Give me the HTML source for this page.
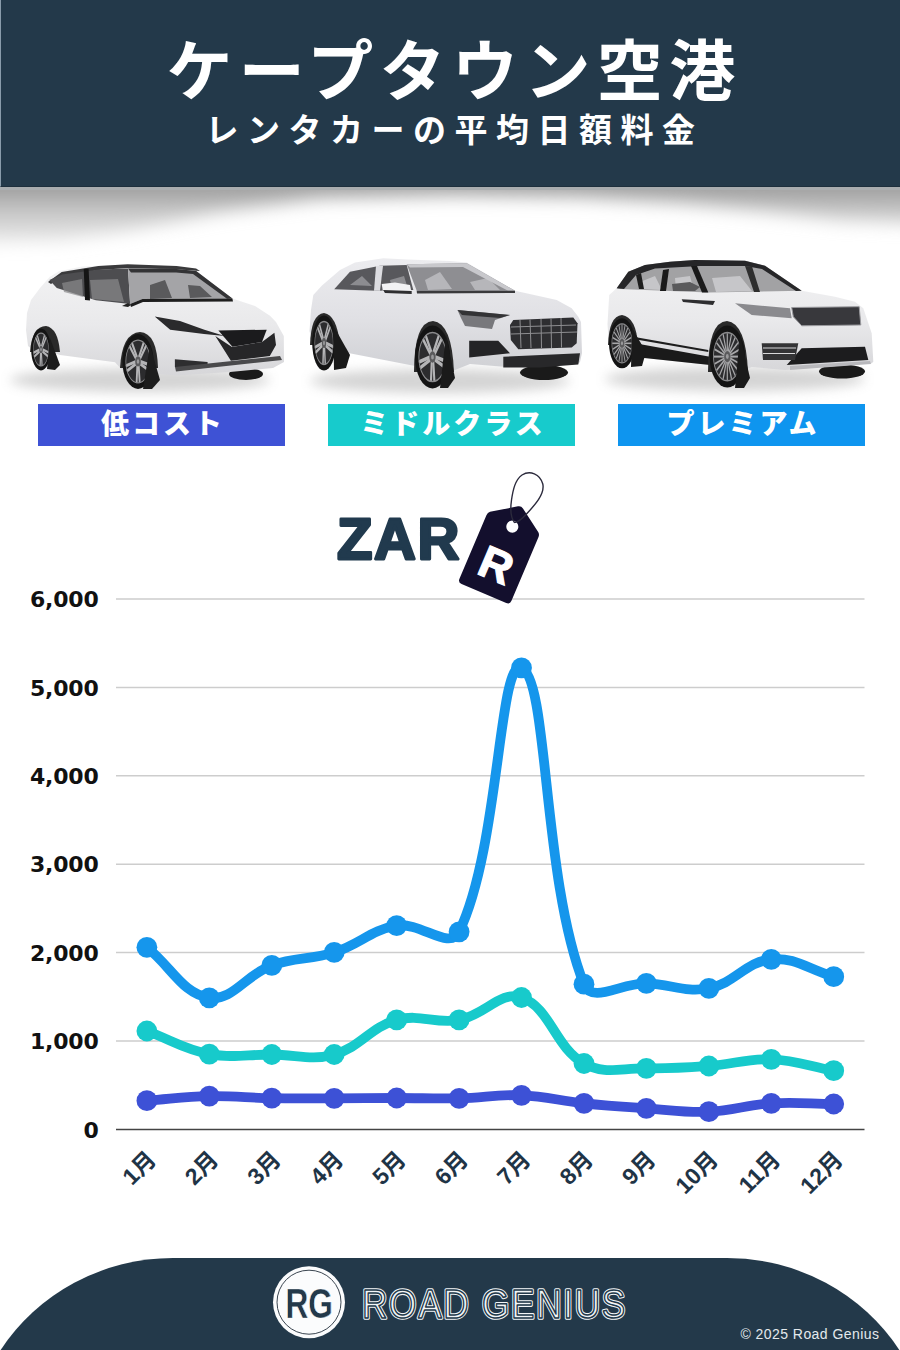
<!DOCTYPE html>
<html lang="ja"><head><meta charset="utf-8"><title>ケープタウン空港 レンタカーの平均日額料金</title>
<style>
*{margin:0;padding:0;box-sizing:border-box}
html,body{width:900px;height:1350px;overflow:hidden;background:#fff}
body{position:relative;font-family:"Liberation Sans","Noto Sans CJK JP",sans-serif}
.hdr{position:absolute;left:0;top:0;width:900px;height:187px;background:#23394a;border-bottom:1px solid #1d2f3d;border-left:1px solid #8a9cab}
.shade{position:absolute;left:0;top:187px;width:900px;height:75px;overflow:hidden}
.t1{position:absolute;left:0;top:39px;width:900px;text-align:center;color:#fff;font:700 66px/1 "Liberation Sans","Noto Sans CJK JP",sans-serif;letter-spacing:6.4px;padding-left:8px}
.t2{position:absolute;left:0;top:114px;width:900px;text-align:center;color:#fff;font:700 33px/1 "Liberation Sans","Noto Sans CJK JP",sans-serif;letter-spacing:8.5px;padding-left:9px}
.lbl{position:absolute;top:404px;height:42px;width:247px;color:#fff;text-align:center;font:900 28px/42px "Liberation Sans","Noto Sans CJK JP",sans-serif;letter-spacing:3px;text-indent:3px}
.l1{left:38px;background:#3e52d5}
.l2{left:328px;background:#17cbcc}
.l3{left:618px;background:#0e95ef}
svg{position:absolute;left:0;top:0}
.foot{position:absolute;left:0;top:1258px;width:900px;height:92px;background:#23394a;border-radius:175px 175px 0 0/92px 92px 0 0}
.copy{position:absolute;right:20.5px;top:1327px;color:#e3e9ed;font:400 14px/1 "Liberation Sans",sans-serif;letter-spacing:0.45px}
</style></head><body>
<div class="hdr"></div>
<div class="shade"><svg width="900" height="75" viewBox="0 187 900 75"><defs><filter id="sb" x="-10%" y="-50%" width="120%" height="200%"><feGaussianBlur stdDeviation="9"/></filter><linearGradient id="sg" x1="0" y1="187" x2="0" y2="250" gradientUnits="userSpaceOnUse"><stop offset="0" stop-color="#9c9c9c"/><stop offset="0.35" stop-color="#c4c4c4"/><stop offset="1" stop-color="#f2f2f2"/></linearGradient></defs><path d="M-40,160 L-40,242 L60,240 L130,230 L220,212 L320,198 L450,195 L580,197 L680,203 L770,212 L840,220 L940,224 L940,160 Z" fill="url(#sg)" filter="url(#sb)"/><rect x="0" y="187" width="900" height="3" fill="#a9adb0"/></svg></div>
<div class="t1">ケープタウン空港</div>
<div class="t2">レンタカーの平均日額料金</div>
<svg width="900" height="1350" viewBox="0 0 900 1350">
<defs>
<filter id="bl" x="-30%" y="-80%" width="160%" height="260%"><feGaussianBlur stdDeviation="6"/></filter>
<filter id="bl2" x="-30%" y="-80%" width="160%" height="260%"><feGaussianBlur stdDeviation="2.5"/></filter>
<linearGradient id="bodyA" x1="0" y1="0" x2="0" y2="1"><stop offset="0" stop-color="#f3f3f4"/><stop offset="0.55" stop-color="#e9e9eb"/><stop offset="1" stop-color="#d6d6d9"/></linearGradient>
<linearGradient id="bodyB" x1="0" y1="0" x2="0" y2="1"><stop offset="0" stop-color="#ececef"/><stop offset="0.55" stop-color="#e0e0e4"/><stop offset="1" stop-color="#cfd0d4"/></linearGradient>
</defs>
<!-- shadows -->
<ellipse cx="140" cy="380" rx="130" ry="12" fill="#a0a0a0" opacity="0.45" filter="url(#bl)"/>
<ellipse cx="440" cy="381" rx="130" ry="12" fill="#a0a0a0" opacity="0.45" filter="url(#bl)"/>
<ellipse cx="735" cy="379" rx="130" ry="12" fill="#a0a0a0" opacity="0.45" filter="url(#bl)"/>
<g><ellipse cx="246" cy="374" rx="17" ry="6" fill="#1a1a1a"/><path d="M28,346 L26,330 L27,313 L31,300 L40,288 L49.6,277 L58.9,271.3 L82,266.5 L116,265 L150,265.9 L189,270.6 L232.4,298.6 L255,306 L270,315.7 L276,321.9 L283.8,335.9 L284,362 L273,368 L230,372 L175,375.5 L150,373 L122,370 L115,362.3 L60,355 L50,352 L32,349 Z" fill="url(#bodyA)"/><path d="M48,282 L61.7,272.1 L98.3,266 L127.7,264.3 L176.6,266 L196.1,268.4 L200,271 L176,269.5 L128,268 L99,270 L63,276 L51,284 Z" fill="#3a3a3c"/><path d="M49.4,280 L62,274.5 L99,269.5 L128,268.5 L130.1,303.9 L95.9,300.2 L56.8,288 Z" fill="#4d4d50"/><path d="M62,283 L82,279 L83,297 L64,292 Z M90,280 L118,279 L124,302 L92,299 Z" fill="#8a8a8c" opacity=".7"/><path d="M83.7,269 L88.6,268.8 L90,300.5 L85,300 Z" fill="#151515"/><path d="M128,268.5 L176.6,269 L196.1,271 L232.4,298.6 L142.4,299 L130.1,303.9 Z" fill="#a4a4a7"/><path d="M150,285 L165,280 L172,298 L150,299 Z M188,285 L200,286 L212,297 L190,298 Z" fill="#5a5a5c"/><path d="M128,268.5 L176.6,269 L196.1,271 L232.4,298.6 L227,298.8 L193,274 L176,272.5 L131,272.5 Z" fill="#333335"/><path d="M130.1,303.9 L142.4,299 L232.4,298.6 L233,301.5 L143,302 L131,307 Z" fill="#1e1e1e"/><path d="M128,303 L131,305 L128,307 L122,306 Z" fill="#222"/><path d="M154.7,316.4 L180,321 L204.4,329.7 L224.7,335.9 L204,334 L170.2,329.7 Z" fill="#2a2a2c"/><path d="M218.4,330.4 L266.7,329.7 L262,342.1 L232.4,346.8 Z" fill="#1b1b1d"/><path d="M215.3,335.9 L232,347 L262,342 L274.4,332.8 L276,345 L269.8,356.1 L230.9,360.8 Z" fill="#262628"/><path d="M174.9,359.2 L207.6,362 L207.6,367 L174.9,367 Z" fill="#2e2e30"/><path d="M175,367 L280,356 L282,360 L176,371.5 Z" fill="#4a4a4c"/><path d="M30,352 Q32,326 46,326 Q58,328 60,352 Z" fill="#2a2a2a"/><path d="M120,368 Q122,333 140,332 Q157,333 158,368 Z" fill="#2a2a2a"/><g transform="translate(41,349.5) scale(0.490,1.050)"><circle r="20.0" fill="#141414"/><circle r="15.6" fill="#2c2c2e"/><line x1="3.5" y1="0.1" x2="14.6" y2="2.5" stroke="#b4b4b6" stroke-width="2.4" stroke-linecap="round"/><line x1="3.0" y1="1.9" x2="13.5" y2="6.2" stroke="#b4b4b6" stroke-width="2.4" stroke-linecap="round"/><line x1="0.9" y1="3.4" x2="2.1" y2="14.6" stroke="#b4b4b6" stroke-width="2.4" stroke-linecap="round"/><line x1="-0.9" y1="3.4" x2="-1.7" y2="14.7" stroke="#b4b4b6" stroke-width="2.4" stroke-linecap="round"/><line x1="-2.9" y1="1.9" x2="-13.3" y2="6.5" stroke="#b4b4b6" stroke-width="2.4" stroke-linecap="round"/><line x1="-3.5" y1="0.2" x2="-14.5" y2="2.9" stroke="#b4b4b6" stroke-width="2.4" stroke-linecap="round"/><line x1="-2.7" y1="-2.2" x2="-10.3" y2="-10.6" stroke="#b4b4b6" stroke-width="2.4" stroke-linecap="round"/><line x1="-1.3" y1="-3.2" x2="-7.3" y2="-12.9" stroke="#b4b4b6" stroke-width="2.4" stroke-linecap="round"/><line x1="1.2" y1="-3.3" x2="6.9" y2="-13.1" stroke="#b4b4b6" stroke-width="2.4" stroke-linecap="round"/><line x1="2.7" y1="-2.2" x2="10.0" y2="-10.9" stroke="#b4b4b6" stroke-width="2.4" stroke-linecap="round"/><circle r="15.6" fill="none" stroke="#8a8a8c" stroke-width="1"/><circle r="3.6" fill="#5a5a5c"/><circle r="1.6" fill="#9a9a9c"/></g><path d="M50,338 L60,365 L55,370 L47,369 Z" fill="#1d1d1d"/><g transform="translate(138,361.5) scale(0.780,1.370)"><circle r="20.0" fill="#141414"/><circle r="15.6" fill="#2c2c2e"/><line x1="3.5" y1="0.1" x2="14.6" y2="2.5" stroke="#b4b4b6" stroke-width="2.4" stroke-linecap="round"/><line x1="3.0" y1="1.9" x2="13.5" y2="6.2" stroke="#b4b4b6" stroke-width="2.4" stroke-linecap="round"/><line x1="0.9" y1="3.4" x2="2.1" y2="14.6" stroke="#b4b4b6" stroke-width="2.4" stroke-linecap="round"/><line x1="-0.9" y1="3.4" x2="-1.7" y2="14.7" stroke="#b4b4b6" stroke-width="2.4" stroke-linecap="round"/><line x1="-2.9" y1="1.9" x2="-13.3" y2="6.5" stroke="#b4b4b6" stroke-width="2.4" stroke-linecap="round"/><line x1="-3.5" y1="0.2" x2="-14.5" y2="2.9" stroke="#b4b4b6" stroke-width="2.4" stroke-linecap="round"/><line x1="-2.7" y1="-2.2" x2="-10.3" y2="-10.6" stroke="#b4b4b6" stroke-width="2.4" stroke-linecap="round"/><line x1="-1.3" y1="-3.2" x2="-7.3" y2="-12.9" stroke="#b4b4b6" stroke-width="2.4" stroke-linecap="round"/><line x1="1.2" y1="-3.3" x2="6.9" y2="-13.1" stroke="#b4b4b6" stroke-width="2.4" stroke-linecap="round"/><line x1="2.7" y1="-2.2" x2="10.0" y2="-10.9" stroke="#b4b4b6" stroke-width="2.4" stroke-linecap="round"/><circle r="15.6" fill="none" stroke="#8a8a8c" stroke-width="1"/><circle r="3.6" fill="#5a5a5c"/><circle r="1.6" fill="#9a9a9c"/></g><path d="M150,345 L160,380 L152,389 L143,389 Z" fill="#1d1d1d"/></g>
<g><ellipse cx="544" cy="372.5" rx="24" ry="7.5" fill="#1a1a1a"/><path d="M309.5,331 L311,310 L313.3,295 L321.7,285.8 L340,270 L355,262.5 L383.3,258.3 L406.7,259.5 L450,261 L466.7,262.5 L515,290.8 L556.7,300 L571.7,308.3 L578.3,316.7 L581,322 L582,353 L580,362 L578,364 L506.7,367 L470,364 L450,372 L415,366 L338,351 L330,345 L312,341 Z" fill="url(#bodyB)"/><path d="M334.2,289.2 L350,271.7 L380,265.8 L406.7,265 L413.3,290 L376.7,290.8 Z" fill="#58585c"/><path d="M350,285 L362,276 L372,286 Z M390,280 L404,276 L408,289 L392,289 Z" fill="#9a9a9e" opacity=".8"/><path d="M376,266 L383,265.7 L380,290.8 L374,290.8 Z" fill="#dcdce0"/><path d="M406.7,264.2 L466.7,263.3 L515,290.8 L416.7,290.8 Z" fill="#8e8e92"/><path d="M425,280 L440,272 L452,289 L428,290 Z M470,282 L488,278 L500,290 L475,290 Z" fill="#b6b6ba"/><path d="M406.7,264.2 L466.7,263.3 L515,290.8 L508,290.8 L463,267 L410,267.5 Z" fill="#c8c8cc"/><path d="M416.7,290.8 L515,290.8 L515,293 L417,293.5 Z" fill="#3a3a3c"/><path d="M381.7,284 L395,282.5 L410,285 L411.7,293.3 L383,292 Z" fill="#f2f2f4"/><path d="M383,290 L411.7,291 L411.7,294 L385,293 Z" fill="#2e2e30"/><path d="M457.5,310 L510,315 L495,320 L492,329 L465,326 L461,318 Z" fill="#78787c"/><path d="M457.5,310 L510,315 L500,318 L462,315 Z" fill="#333335"/><path d="M513.3,320 L573.3,317.5 L577.5,323.3 L576.7,343.3 L571.7,347.5 L518.3,349.2 L510.8,340 L510,325 Z" fill="#2e2e31"/><g stroke="#8e8e91" stroke-width="1"><line x1="520" y1="320" x2="521" y2="348"/><line x1="530" y1="319.5" x2="531" y2="348"/><line x1="541" y1="319" x2="541.5" y2="348"/><line x1="551" y1="318.5" x2="551.5" y2="348"/><line x1="561" y1="318" x2="561.5" y2="347.5"/><line x1="511" y1="327" x2="576" y2="325"/><line x1="511" y1="334" x2="577" y2="332"/></g><path d="M469.2,340.8 L498.3,340.8 L510,353.3 L469.2,357.5 Z" fill="#242426"/><path d="M503.3,356.7 L580,353.3 L578.3,364.5 L540,367.5 L503.3,367.5 Z" fill="#28282a"/><path d="M310,345 Q311,314 324,313 Q337,315 340,345 Z" fill="#2a2a2a"/><path d="M414,372 Q414,322 433,321 Q452,323 454,372 Z" fill="#2a2a2a"/><g transform="translate(324,343) scale(0.590,1.375)"><circle r="20.0" fill="#141414"/><circle r="15.6" fill="#2c2c2e"/><line x1="3.5" y1="0.1" x2="14.6" y2="2.5" stroke="#b4b4b6" stroke-width="2.4" stroke-linecap="round"/><line x1="3.0" y1="1.9" x2="13.5" y2="6.2" stroke="#b4b4b6" stroke-width="2.4" stroke-linecap="round"/><line x1="0.9" y1="3.4" x2="2.1" y2="14.6" stroke="#b4b4b6" stroke-width="2.4" stroke-linecap="round"/><line x1="-0.9" y1="3.4" x2="-1.7" y2="14.7" stroke="#b4b4b6" stroke-width="2.4" stroke-linecap="round"/><line x1="-2.9" y1="1.9" x2="-13.3" y2="6.5" stroke="#b4b4b6" stroke-width="2.4" stroke-linecap="round"/><line x1="-3.5" y1="0.2" x2="-14.5" y2="2.9" stroke="#b4b4b6" stroke-width="2.4" stroke-linecap="round"/><line x1="-2.7" y1="-2.2" x2="-10.3" y2="-10.6" stroke="#b4b4b6" stroke-width="2.4" stroke-linecap="round"/><line x1="-1.3" y1="-3.2" x2="-7.3" y2="-12.9" stroke="#b4b4b6" stroke-width="2.4" stroke-linecap="round"/><line x1="1.2" y1="-3.3" x2="6.9" y2="-13.1" stroke="#b4b4b6" stroke-width="2.4" stroke-linecap="round"/><line x1="2.7" y1="-2.2" x2="10.0" y2="-10.9" stroke="#b4b4b6" stroke-width="2.4" stroke-linecap="round"/><circle r="15.6" fill="none" stroke="#8a8a8c" stroke-width="1"/><circle r="3.6" fill="#5a5a5c"/><circle r="1.6" fill="#9a9a9c"/></g><path d="M333,325 L350,355 L346,368 L334,370 Z" fill="#1a1a1a"/><g transform="translate(432.5,357) scale(0.875,1.575)"><circle r="20.0" fill="#141414"/><circle r="15.6" fill="#2c2c2e"/><line x1="3.5" y1="0.1" x2="14.6" y2="2.5" stroke="#b4b4b6" stroke-width="2.4" stroke-linecap="round"/><line x1="3.0" y1="1.9" x2="13.5" y2="6.2" stroke="#b4b4b6" stroke-width="2.4" stroke-linecap="round"/><line x1="0.9" y1="3.4" x2="2.1" y2="14.6" stroke="#b4b4b6" stroke-width="2.4" stroke-linecap="round"/><line x1="-0.9" y1="3.4" x2="-1.7" y2="14.7" stroke="#b4b4b6" stroke-width="2.4" stroke-linecap="round"/><line x1="-2.9" y1="1.9" x2="-13.3" y2="6.5" stroke="#b4b4b6" stroke-width="2.4" stroke-linecap="round"/><line x1="-3.5" y1="0.2" x2="-14.5" y2="2.9" stroke="#b4b4b6" stroke-width="2.4" stroke-linecap="round"/><line x1="-2.7" y1="-2.2" x2="-10.3" y2="-10.6" stroke="#b4b4b6" stroke-width="2.4" stroke-linecap="round"/><line x1="-1.3" y1="-3.2" x2="-7.3" y2="-12.9" stroke="#b4b4b6" stroke-width="2.4" stroke-linecap="round"/><line x1="1.2" y1="-3.3" x2="6.9" y2="-13.1" stroke="#b4b4b6" stroke-width="2.4" stroke-linecap="round"/><line x1="2.7" y1="-2.2" x2="10.0" y2="-10.9" stroke="#b4b4b6" stroke-width="2.4" stroke-linecap="round"/><circle r="15.6" fill="none" stroke="#8a8a8c" stroke-width="1"/><circle r="3.6" fill="#5a5a5c"/><circle r="1.6" fill="#9a9a9c"/></g><path d="M446,335 L455,378 L448,388 L440,388 Z" fill="#1a1a1a"/></g>
<g><ellipse cx="842" cy="371.5" rx="23" ry="7" fill="#1a1a1a"/><path d="M607.5,324 L609.2,295 L616.7,288.3 L628.3,271.7 L645,265 L670,261.7 L695,260 L745,260.8 L765,265.8 L801.7,290.8 L835,296.7 L855,301.7 L863.3,308.3 L871.7,333.3 L873.3,361.7 L871.7,363.3 L785,370 L751.7,367 L740,372 L710,365 L635,357 L625,360 L609,345 Z" fill="url(#bodyA)"/><path d="M616.7,288.3 L628.3,271.7 L645,265 L670,261.7 L695,260 L745,260.8 L765,265.8 L801.7,290.8 L708.3,292.5 L620,289 Z" fill="#a2a2a4"/><path d="M640,282 L655,276 L662,290 L642,289 Z M675,278 L690,276 L694,291 L676,291 Z M712,278 L740,276 L752,291 L716,292 Z" fill="#d0d0d2" opacity=".8"/><path d="M616.7,288.3 L628.3,271.7 L645,265 L670,261.7 L695,260 L745,260.8 L765,265.8 L801.7,290.8 L796,291 L762,269 L745,266 L700,266 L655,268.5 L636,275 L624,289 Z" fill="#262628"/><path d="M636,275 L641,273 L644,289 L639,289 Z" fill="#1e1e1e"/><path d="M663,270 L669,269 L666,291 L660,291 Z" fill="#1a1a1a"/><path d="M691,266 L697,266 L708.3,292.5 L702,292.5 Z" fill="#1a1a1a"/><path d="M745,266 L752,266.5 L760,292 L754,292 Z" fill="#2e2e2e"/><path d="M672,284 L690,282 L700,287 L695,291 L673,291 Z" fill="#5a5a5c"/><path d="M681.7,299.2 L715,301 L713,305 L683,302 Z" fill="#2e2e30"/><path d="M735,303.3 L790,308.3 L791.7,318.3 L751.7,315 Z" fill="#8a8a8e"/><path d="M791.7,307.5 L859.2,306.7 L860.8,325 L801.7,325.8 L793.3,316.7 Z" fill="#38383c"/><path d="M791.7,307.5 L859.2,306.7 L860.8,325 L801.7,325.8 L793.3,316.7 Z" fill="none" stroke="#9a9a9e" stroke-width="1"/><path d="M786.7,365 L801.7,348.3 L865,346.7 L868.3,360 Z" fill="#1c1c1e"/><path d="M790,366 L870,361 L871,364 L790,370 Z" fill="#b8b8bc"/><path d="M761.7,343.3 L798.3,343.3 L795,360 L763,360 Z" fill="#333335"/><path d="M763,348 L796,348 M763,353.5 L795,353.5" stroke="#d8d8da" stroke-width="1.2"/><path d="M633.3,336.7 L708.3,350 L708.3,352 L633.3,339 Z" fill="#1e1e1e"/><path d="M635,343.3 L710,356.7 L710,365 L635,357 Z" fill="#1a1a1a"/><path d="M608,345 Q609,316 622,315 Q636,317 638,345 Z" fill="#2a2a2a"/><path d="M708,372 Q708,322 727,321 Q746,323 748,372 Z" fill="#2a2a2a"/><g transform="translate(622,343.3) scale(0.650,1.250)"><circle r="20.0" fill="#141414"/><circle r="15.6" fill="#2c2c2e"/><line x1="0" y1="0" x2="15.1" y2="0.0" stroke="#a8a8aa" stroke-width="1.3"/><line x1="0" y1="0" x2="14.4" y2="4.7" stroke="#a8a8aa" stroke-width="1.3"/><line x1="0" y1="0" x2="12.2" y2="8.9" stroke="#a8a8aa" stroke-width="1.3"/><line x1="0" y1="0" x2="8.9" y2="12.2" stroke="#a8a8aa" stroke-width="1.3"/><line x1="0" y1="0" x2="4.7" y2="14.4" stroke="#a8a8aa" stroke-width="1.3"/><line x1="0" y1="0" x2="0.0" y2="15.1" stroke="#a8a8aa" stroke-width="1.3"/><line x1="0" y1="0" x2="-4.7" y2="14.4" stroke="#a8a8aa" stroke-width="1.3"/><line x1="0" y1="0" x2="-8.9" y2="12.2" stroke="#a8a8aa" stroke-width="1.3"/><line x1="0" y1="0" x2="-12.2" y2="8.9" stroke="#a8a8aa" stroke-width="1.3"/><line x1="0" y1="0" x2="-14.4" y2="4.7" stroke="#a8a8aa" stroke-width="1.3"/><line x1="0" y1="0" x2="-15.1" y2="0.0" stroke="#a8a8aa" stroke-width="1.3"/><line x1="0" y1="0" x2="-14.4" y2="-4.7" stroke="#a8a8aa" stroke-width="1.3"/><line x1="0" y1="0" x2="-12.2" y2="-8.9" stroke="#a8a8aa" stroke-width="1.3"/><line x1="0" y1="0" x2="-8.9" y2="-12.2" stroke="#a8a8aa" stroke-width="1.3"/><line x1="0" y1="0" x2="-4.7" y2="-14.4" stroke="#a8a8aa" stroke-width="1.3"/><line x1="0" y1="0" x2="-0.0" y2="-15.1" stroke="#a8a8aa" stroke-width="1.3"/><line x1="0" y1="0" x2="4.7" y2="-14.4" stroke="#a8a8aa" stroke-width="1.3"/><line x1="0" y1="0" x2="8.9" y2="-12.2" stroke="#a8a8aa" stroke-width="1.3"/><line x1="0" y1="0" x2="12.2" y2="-8.9" stroke="#a8a8aa" stroke-width="1.3"/><line x1="0" y1="0" x2="14.4" y2="-4.7" stroke="#a8a8aa" stroke-width="1.3"/><circle r="15.6" fill="none" stroke="#8a8a8c" stroke-width="1"/><circle r="3.6" fill="#5a5a5c"/><circle r="1.6" fill="#9a9a9c"/></g><path d="M632,328 L646,352 L642,366 L631,367 Z" fill="#1a1a1a"/><g transform="translate(727.3,356.6) scale(0.885,1.550)"><circle r="20.0" fill="#141414"/><circle r="15.6" fill="#2c2c2e"/><line x1="0" y1="0" x2="15.1" y2="0.0" stroke="#a8a8aa" stroke-width="1.3"/><line x1="0" y1="0" x2="14.4" y2="4.7" stroke="#a8a8aa" stroke-width="1.3"/><line x1="0" y1="0" x2="12.2" y2="8.9" stroke="#a8a8aa" stroke-width="1.3"/><line x1="0" y1="0" x2="8.9" y2="12.2" stroke="#a8a8aa" stroke-width="1.3"/><line x1="0" y1="0" x2="4.7" y2="14.4" stroke="#a8a8aa" stroke-width="1.3"/><line x1="0" y1="0" x2="0.0" y2="15.1" stroke="#a8a8aa" stroke-width="1.3"/><line x1="0" y1="0" x2="-4.7" y2="14.4" stroke="#a8a8aa" stroke-width="1.3"/><line x1="0" y1="0" x2="-8.9" y2="12.2" stroke="#a8a8aa" stroke-width="1.3"/><line x1="0" y1="0" x2="-12.2" y2="8.9" stroke="#a8a8aa" stroke-width="1.3"/><line x1="0" y1="0" x2="-14.4" y2="4.7" stroke="#a8a8aa" stroke-width="1.3"/><line x1="0" y1="0" x2="-15.1" y2="0.0" stroke="#a8a8aa" stroke-width="1.3"/><line x1="0" y1="0" x2="-14.4" y2="-4.7" stroke="#a8a8aa" stroke-width="1.3"/><line x1="0" y1="0" x2="-12.2" y2="-8.9" stroke="#a8a8aa" stroke-width="1.3"/><line x1="0" y1="0" x2="-8.9" y2="-12.2" stroke="#a8a8aa" stroke-width="1.3"/><line x1="0" y1="0" x2="-4.7" y2="-14.4" stroke="#a8a8aa" stroke-width="1.3"/><line x1="0" y1="0" x2="-0.0" y2="-15.1" stroke="#a8a8aa" stroke-width="1.3"/><line x1="0" y1="0" x2="4.7" y2="-14.4" stroke="#a8a8aa" stroke-width="1.3"/><line x1="0" y1="0" x2="8.9" y2="-12.2" stroke="#a8a8aa" stroke-width="1.3"/><line x1="0" y1="0" x2="12.2" y2="-8.9" stroke="#a8a8aa" stroke-width="1.3"/><line x1="0" y1="0" x2="14.4" y2="-4.7" stroke="#a8a8aa" stroke-width="1.3"/><circle r="15.6" fill="none" stroke="#8a8a8c" stroke-width="1"/><circle r="3.6" fill="#5a5a5c"/><circle r="1.6" fill="#9a9a9c"/></g><path d="M740,335 L750,378 L744,388 L735,388 Z" fill="#1a1a1a"/></g>
</svg>
<div class="lbl l1">低コスト</div>
<div class="lbl l2">ミドルクラス</div>
<div class="lbl l3">プレミアム</div>
<svg width="900" height="1350" viewBox="0 0 900 1350">
<style>
.yl{font:700 22px "DejaVu Sans",sans-serif;fill:#111;letter-spacing:-0.2px}
.ml{font:700 23px "Liberation Sans","Noto Sans CJK JP",sans-serif;fill:#1f3446}
</style>
<line x1="116" y1="599.0" x2="864.5" y2="599.0" stroke="#cdcdcd" stroke-width="1.5"/><text x="98.5" y="607.2" text-anchor="end" class="yl">6,000</text><line x1="116" y1="687.4" x2="864.5" y2="687.4" stroke="#cdcdcd" stroke-width="1.5"/><text x="98.5" y="695.6" text-anchor="end" class="yl">5,000</text><line x1="116" y1="775.8" x2="864.5" y2="775.8" stroke="#cdcdcd" stroke-width="1.5"/><text x="98.5" y="784.0" text-anchor="end" class="yl">4,000</text><line x1="116" y1="864.2" x2="864.5" y2="864.2" stroke="#cdcdcd" stroke-width="1.5"/><text x="98.5" y="872.4" text-anchor="end" class="yl">3,000</text><line x1="116" y1="952.6" x2="864.5" y2="952.6" stroke="#cdcdcd" stroke-width="1.5"/><text x="98.5" y="960.8" text-anchor="end" class="yl">2,000</text><line x1="116" y1="1041.0" x2="864.5" y2="1041.0" stroke="#cdcdcd" stroke-width="1.5"/><text x="98.5" y="1049.2" text-anchor="end" class="yl">1,000</text><line x1="116" y1="1129.4" x2="864.5" y2="1129.4" stroke="#444" stroke-width="1.5"/><text x="98.5" y="1137.6" text-anchor="end" class="yl">0</text>
<path d="M146.9,1100.7C171.9,1098.9 184.3,1096.7 209.3,1096.2C234.3,1095.7 246.8,1097.8 271.8,1098.2C296.7,1098.6 309.2,1098.3 334.2,1098.3C359.2,1098.3 371.7,1098.0 396.7,1098.0C421.6,1098.0 434.1,1098.8 459.1,1098.3C484.1,1097.8 496.7,1094.3 521.5,1095.3C546.6,1096.3 558.9,1100.7 584.0,1103.3C608.9,1105.9 621.4,1106.6 646.4,1108.3C671.4,1110.0 684.0,1112.7 708.9,1111.7C733.9,1110.7 746.2,1104.8 771.3,1103.3C796.2,1101.8 808.8,1103.7 833.7,1104.0" fill="none" stroke="#3d51d6" stroke-width="9.8" stroke-linejoin="round" stroke-linecap="round"/>
<circle cx="146.9" cy="1100.7" r="10.4" fill="#3d51d6"/><circle cx="209.3" cy="1096.2" r="10.4" fill="#3d51d6"/><circle cx="271.8" cy="1098.2" r="10.4" fill="#3d51d6"/><circle cx="334.2" cy="1098.3" r="10.4" fill="#3d51d6"/><circle cx="396.7" cy="1098.0" r="10.4" fill="#3d51d6"/><circle cx="459.1" cy="1098.3" r="10.4" fill="#3d51d6"/><circle cx="521.5" cy="1095.3" r="10.4" fill="#3d51d6"/><circle cx="584.0" cy="1103.3" r="10.4" fill="#3d51d6"/><circle cx="646.4" cy="1108.3" r="10.4" fill="#3d51d6"/><circle cx="708.9" cy="1111.7" r="10.4" fill="#3d51d6"/><circle cx="771.3" cy="1103.3" r="10.4" fill="#3d51d6"/><circle cx="833.7" cy="1104.0" r="10.4" fill="#3d51d6"/>
<path d="M146.9,1031.0C171.9,1040.2 183.6,1049.2 209.3,1054.1C233.5,1058.6 246.8,1054.4 271.8,1054.5C296.8,1054.6 310.9,1061.0 334.2,1054.5C360.9,1047.1 370.0,1027.3 396.7,1019.9C420.0,1013.4 434.9,1024.2 459.1,1019.9C484.8,1015.3 500.5,990.1 521.5,997.5C550.4,1007.6 554.4,1046.7 584.0,1063.5C604.4,1075.1 621.4,1067.8 646.4,1068.3C671.4,1068.8 683.9,1067.8 708.9,1066.0C733.9,1064.2 746.5,1058.4 771.3,1059.3C796.4,1060.2 808.8,1066.1 833.7,1070.7" fill="none" stroke="#17cacb" stroke-width="9.8" stroke-linejoin="round" stroke-linecap="round"/>
<circle cx="146.9" cy="1031.0" r="10.4" fill="#17cacb"/><circle cx="209.3" cy="1054.1" r="10.4" fill="#17cacb"/><circle cx="271.8" cy="1054.5" r="10.4" fill="#17cacb"/><circle cx="334.2" cy="1054.5" r="10.4" fill="#17cacb"/><circle cx="396.7" cy="1019.9" r="10.4" fill="#17cacb"/><circle cx="459.1" cy="1019.9" r="10.4" fill="#17cacb"/><circle cx="521.5" cy="997.5" r="10.4" fill="#17cacb"/><circle cx="584.0" cy="1063.5" r="10.4" fill="#17cacb"/><circle cx="646.4" cy="1068.3" r="10.4" fill="#17cacb"/><circle cx="708.9" cy="1066.0" r="10.4" fill="#17cacb"/><circle cx="771.3" cy="1059.3" r="10.4" fill="#17cacb"/><circle cx="833.7" cy="1070.7" r="10.4" fill="#17cacb"/>
<path d="M146.9,947.3C171.9,967.5 182.7,993.9 209.3,997.8C232.7,1001.2 245.6,974.9 271.8,965.4C295.5,956.8 310.0,960.1 334.2,952.4C360.0,944.2 370.7,929.9 396.7,925.6C420.6,921.6 449.7,951.2 459.1,931.8C499.7,848.1 498.7,658.2 521.5,667.8C548.7,679.2 542.1,878.5 584.0,984.2C592.1,1004.7 621.5,982.5 646.4,983.3C671.4,984.1 685.1,992.9 708.9,988.3C735.0,983.3 745.6,961.7 771.3,959.3C795.5,957.0 808.8,969.7 833.7,976.7" fill="none" stroke="#1596ec" stroke-width="9.8" stroke-linejoin="round" stroke-linecap="round"/>
<circle cx="146.9" cy="947.3" r="10.4" fill="#1596ec"/><circle cx="209.3" cy="997.8" r="10.4" fill="#1596ec"/><circle cx="271.8" cy="965.4" r="10.4" fill="#1596ec"/><circle cx="334.2" cy="952.4" r="10.4" fill="#1596ec"/><circle cx="396.7" cy="925.6" r="10.4" fill="#1596ec"/><circle cx="459.1" cy="931.8" r="10.4" fill="#1596ec"/><circle cx="521.5" cy="667.8" r="10.4" fill="#1596ec"/><circle cx="584.0" cy="984.2" r="10.4" fill="#1596ec"/><circle cx="646.4" cy="983.3" r="10.4" fill="#1596ec"/><circle cx="708.9" cy="988.3" r="10.4" fill="#1596ec"/><circle cx="771.3" cy="959.3" r="10.4" fill="#1596ec"/><circle cx="833.7" cy="976.7" r="10.4" fill="#1596ec"/>
<text transform="translate(157.4,1161) rotate(-45)" text-anchor="end" class="ml">1月</text><text transform="translate(219.8,1161) rotate(-45)" text-anchor="end" class="ml">2月</text><text transform="translate(282.3,1161) rotate(-45)" text-anchor="end" class="ml">3月</text><text transform="translate(344.7,1161) rotate(-45)" text-anchor="end" class="ml">4月</text><text transform="translate(407.2,1161) rotate(-45)" text-anchor="end" class="ml">5月</text><text transform="translate(469.6,1161) rotate(-45)" text-anchor="end" class="ml">6月</text><text transform="translate(532.0,1161) rotate(-45)" text-anchor="end" class="ml">7月</text><text transform="translate(594.5,1161) rotate(-45)" text-anchor="end" class="ml">8月</text><text transform="translate(656.9,1161) rotate(-45)" text-anchor="end" class="ml">9月</text><text transform="translate(719.4,1161) rotate(-45)" text-anchor="end" class="ml">10月</text><text transform="translate(781.8,1161) rotate(-45)" text-anchor="end" class="ml">11月</text><text transform="translate(844.2,1161) rotate(-45)" text-anchor="end" class="ml">12月</text>

</svg>
<svg width="900" height="1350" viewBox="0 0 900 1350">
<text x="337" y="559" style="font:700 58px 'Liberation Sans',sans-serif;fill:#213a4e;stroke:#213a4e;stroke-width:2.8;stroke-linejoin:round;letter-spacing:1.6px">ZAR</text>
<g transform="translate(457.9,582.4) rotate(23)">
<path d="M4,0 L52.5,0 Q56.5,0 56.5,4 L56.5,73 Q56.5,76 54.5,77.5 L31,93.5 Q28.3,95.3 25.6,93.5 L2,77.5 Q0,76 0,73 L0,4 Q0,0 4,0 Z" transform="scale(1,-1)" fill="#130f2d"/>
<circle cx="28.3" cy="-72.6" r="6" fill="#fff"/>
<text x="28.5" y="-15.5" text-anchor="middle" style="font:700 45px 'Liberation Sans',sans-serif;fill:#fff;stroke:#fff;stroke-width:1.2">R</text>
</g>
<path d="M514.5,522.5 C510,517 510.5,507 511.5,500 C513,490 515,480 522,475 C530,470 540,474 542.8,484 C545,494 535,505 526,514.5 C522,519 518,522 514.5,522.5" fill="none" stroke="#2b2a3c" stroke-width="1.4"/>
</svg>
<svg width="900" height="1350" viewBox="0 0 900 1350">
<path d="M0,1351 A205,200 0 0 1 173,1258 L727,1258 A205,200 0 0 1 900,1351 Z" fill="#23394a"/>
<circle cx="309" cy="1302.2" r="36" fill="#fbfcfd"/>
<circle cx="309" cy="1302.2" r="32" fill="none" stroke="#3a4550" stroke-width="1"/>
<text x="285.5" y="1317.8" textLength="47.5" lengthAdjust="spacingAndGlyphs" style="font:700 42px 'Liberation Sans',sans-serif;fill:#23394a">RG</text>
<text x="285.5" y="1317.8" textLength="47.5" lengthAdjust="spacingAndGlyphs" style="font:700 42px 'Liberation Sans',sans-serif;fill:none;stroke:#fff;stroke-width:0.7;stroke-dasharray:none;opacity:.55" transform="translate(0,0)">RG</text>
<g style="font:400 40px 'Liberation Sans',sans-serif;letter-spacing:2px">
<text x="362" y="1317.5" textLength="265" lengthAdjust="spacingAndGlyphs" style="fill:#23394a;stroke:#f2f5f7;stroke-width:3.6;stroke-linejoin:round">ROAD GENIUS</text>
<text x="362" y="1317.5" textLength="265" lengthAdjust="spacingAndGlyphs" style="fill:#f2f5f7;stroke:#23394a;stroke-width:1.5;stroke-linejoin:round">ROAD GENIUS</text>
</g>
</svg>
<div class="copy">© 2025 Road Genius</div>
</body></html>
